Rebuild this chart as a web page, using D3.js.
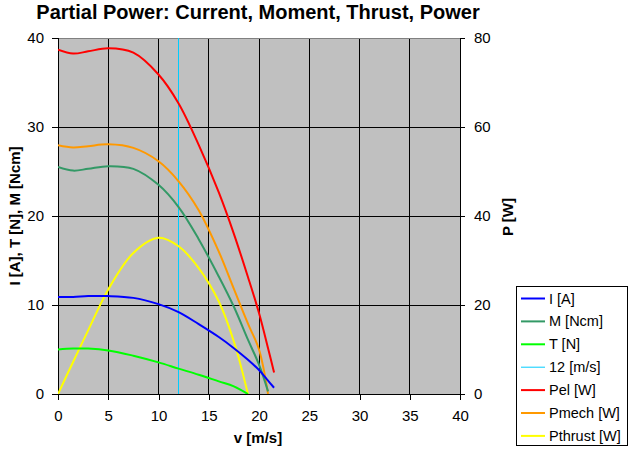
<!DOCTYPE html>
<html><head><meta charset="utf-8">
<script src="https://cdn.jsdelivr.net/npm/d3@7"></script>
<style>body{margin:0;background:#fff}text{font-family:Arial,"Liberation Sans",sans-serif}</style>
</head><body><svg id="c" width="629" height="450"></svg>
<script>
const speed  = [0, 1.5, 3, 5, 7.5, 10, 12, 14, 16, 17.5, 18.9, 20, 20.9, 21.5];
const current = [10.9, 10.9, 11.0, 11.0, 10.8, 10.1, 9.2, 7.85, 6.4, 5.15, 3.85, 2.7, 1.5, 0.7];
const moment  = [25.5, 25.1, 25.3, 25.6, 25.3, 23.5, 21.0, 17.4, 13.2, 9.8, 6.1, 3.3, 0.3, null];
const thrust  = [5.0, 5.1, 5.1, 4.9, 4.3, 3.55, 2.85, 2.17, 1.42, 0.86, 0.0, null, null, null];
const pel     = [77.4, 76.5, 77.0, 77.7, 76.7, 71.8, 65.3, 56.0, 45.3, 36.0, 26.3, 18.2, 10.3, 4.85];
const pmech   = [55.9, 55.4, 55.7, 56.1, 55.3, 52.3, 47.8, 41.3, 32.0, 23.6, 15.8, 10.0, 0.0, null];
const pthrust = [0, 7.2, 14.3, 23.5, 31.7, 35.1, 33.2, 28.3, 20.8, 11.8, 0.0, null, null, null];
const markSpeed = [12];
const xTicks = [0,5,10,15,20,25,30,35,40];
const yTicksLeft = [0,10,20,30,40];
const yTicksRight = [0,20,40,60,80];

const svg = d3.select("#c");
const L=58, R=460, T=38, B=394;
const x = d3.scaleLinear().domain([0,40]).range([L,R]);
const yl = d3.scaleLinear().domain([0,40]).range([B,T]);
const yr = d3.scaleLinear().domain([0,80]).range([B,T]);

svg.append("text").attr("x",258).attr("y",19).attr("text-anchor","middle")
  .attr("font-size",20).attr("font-weight","bold").text("Partial Power: Current, Moment, Thrust, Power");

svg.append("rect").attr("x",L).attr("y",T).attr("width",R-L).attr("height",B-T).attr("fill","#c0c0c0");
svg.append("defs").append("clipPath").attr("id","clip").append("rect")
  .attr("x",L).attr("y",T).attr("width",R-L).attr("height",B-T);

// gridlines
const g = svg.append("g").attr("shape-rendering","crispEdges");
g.selectAll(".vg").data(xTicks.slice(1,-1)).join("line")
  .attr("x1",d=>x(d)).attr("x2",d=>x(d)).attr("y1",T).attr("y2",B).attr("stroke","#000");
g.selectAll(".hg").data(yTicksLeft.slice(1,-1)).join("line")
  .attr("x1",L).attr("x2",R).attr("y1",d=>yl(d)).attr("y2",d=>yl(d)).attr("stroke","#000");
g.append("line").attr("x1",L).attr("x2",R).attr("y1",T).attr("y2",T).attr("stroke","#808080");

// axes
const fs = 15;
const ax = svg.append("g").attr("transform",`translate(0,${B})`).call(d3.axisBottom(x).tickValues(xTicks).tickSize(6).tickPadding(10));
const axl = svg.append("g").attr("transform",`translate(${L},0)`).call(d3.axisLeft(yl).tickValues(yTicksLeft).tickSize(6).tickPadding(8));
const axr = svg.append("g").attr("transform",`translate(${R},0)`).call(d3.axisRight(yr).tickValues(yTicksRight).tickSize(5).tickPadding(9));
[ax,axl,axr].forEach(a=>{
  a.select(".domain").attr("stroke","#000").attr("shape-rendering","crispEdges");
  a.selectAll(".tick line").attr("stroke","#000").attr("shape-rendering","crispEdges");
  a.selectAll("text").attr("font-size",fs).attr("font-family","Arial, 'Liberation Sans', sans-serif").attr("fill","#000");
});
ax.select(".domain").attr("d",`M${L},0H${R}`);
axl.select(".domain").attr("d",`M0,${B}V${T}`);
axr.select(".domain").attr("d",`M0,${B}V${T}`);

// axis titles
svg.append("text").attr("x",258).attr("y",443).attr("text-anchor","middle").attr("font-size",15).attr("font-weight","bold").text("v [m/s]");
svg.append("text").attr("transform","translate(20,216) rotate(-90)").attr("text-anchor","middle").attr("font-size",15).attr("font-weight","bold").text("I [A], T [N], M [Ncm]");
svg.append("text").attr("transform","translate(513,217) rotate(-90)").attr("text-anchor","middle").attr("font-size",15).attr("font-weight","bold").text("P [W]");

// series
const series = [
  {name:"I [A]", vals:current, scale:yl, color:"#0000ff"},
  {name:"M [Ncm]", vals:moment, scale:yl, color:"#339966"},
  {name:"T [N]", vals:thrust, scale:yl, color:"#00ff00"},
  {name:"12 [m/s]", vals:null, scale:yl, color:"#00ccff", w:1},
  {name:"Pel [W]", vals:pel, scale:yr, color:"#ff0000"},
  {name:"Pmech [W]", vals:pmech, scale:yr, color:"#ff9900"},
  {name:"Pthrust [W]", vals:pthrust, scale:yr, color:"#ffff00"}
];
const plot = svg.append("g").attr("clip-path","url(#clip)");
plot.selectAll(".mk").data(markSpeed).join("line")
  .attr("x1",d=>x(d)).attr("x2",d=>x(d)).attr("y1",yl(0)).attr("y2",yl(40))
  .attr("stroke","#00ccff").attr("stroke-width",1).attr("shape-rendering","crispEdges");
const order = [4,5,1,6,0,2];
order.forEach(i=>{
  const s = series[i];
  const pts = speed.map((v,j)=>[v,s.vals[j]]).filter(p=>p[1]!==null);
  const line = d3.line().x(p=>x(p[0])).y(p=>s.scale(p[1])).curve(d3.curveCatmullRom.alpha(0.5));
  plot.append("path").attr("d",line(pts)).attr("fill","none").attr("stroke",s.color).attr("stroke-width",2);
});

// legend
const lg = svg.append("g");
lg.append("rect").attr("x",516.5).attr("y",286.5).attr("width",111).attr("height",159).attr("fill","#fff").attr("stroke","#000").attr("shape-rendering","crispEdges");
series.forEach((s,i)=>{
  const yy = 298.5 + i*22.9;
  lg.append("line").attr("x1",521).attr("x2",545).attr("y1",yy).attr("y2",yy).attr("stroke",s.color).attr("stroke-width",s.w||2);
  lg.append("text").attr("x",549).attr("y",yy+5).attr("font-size",14.5).text(s.name);
});
</script></body></html>
